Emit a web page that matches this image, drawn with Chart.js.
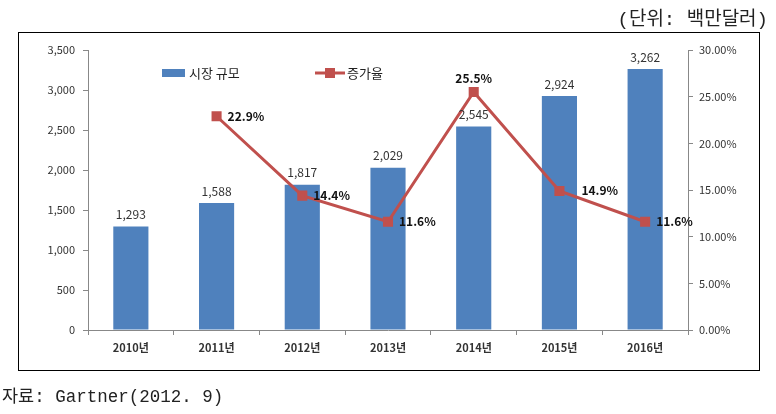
<!DOCTYPE html>
<html>
<head>
<meta charset="utf-8">
<script src="https://cdn.jsdelivr.net/npm/chart.js@4/dist/chart.umd.min.js"></script>
<style>
  body { margin: 0; background: #fff; }
  #wrap { position: relative; width: 776px; height: 414px; }
  canvas { position: absolute; left: 0; top: 0; }
  .note { position: absolute; font-family: "Liberation Mono", "DejaVu Sans Mono", "Noto Sans CJK KR", monospace; color: #222; white-space: nowrap; }
  #unit { right: 8px; top: 3px; font-size: 19px; }
  #src { left: 2px; top: 382px; font-size: 17.5px; }
</style>
</head>
<body>
<div id="wrap">
  <canvas id="c" width="776" height="414"></canvas>
  <div class="note" id="unit">(단위: 백만달러)</div>
  <div class="note" id="src">자료: Gartner(2012. 9)</div>
</div>
<script>
  const years = ['2010년', '2011년', '2012년', '2013년', '2014년', '2015년', '2016년'];
  const marketSize = [1293, 1588, 1817, 2029, 2545, 2924, 3262];
  const growthRate = [null, 22.9, 14.4, 11.6, 25.5, 14.9, 11.6];
  // where each growth label sits relative to its point
  const growthLabelPos = [null, 'right', 'right', 'right', 'top', 'far', 'right'];

  const FONT = '"Noto Sans CJK KR", "Noto Sans", sans-serif';
  const BLUE = '#4f81bd';
  const RED = '#c0504d';

  const fmt = n => n.toLocaleString('en-US');

  const decor = {
    id: 'decor',
    beforeDraw(chart) {
      const ctx = chart.ctx;
      ctx.save();
      ctx.strokeStyle = '#000';
      ctx.lineWidth = 1;
      ctx.strokeRect(18.5, 32.5, 741, 338);
      ctx.restore();
    },
    afterDraw(chart) {
      const ctx = chart.ctx;
      ctx.save();
      // bar values
      ctx.font = '12px ' + FONT;
      ctx.fillStyle = '#333';
      ctx.textAlign = 'center';
      ctx.textBaseline = 'bottom';
      chart.getDatasetMeta(0).data.forEach((bar, i) => {
        ctx.fillText(fmt(marketSize[i]), bar.x, bar.y - 6);
      });
      // growth labels
      ctx.font = 'bold 12px ' + FONT;
      ctx.fillStyle = '#111';
      chart.getDatasetMeta(1).data.forEach((pt, i) => {
        if (growthRate[i] == null) return;
        const t = growthRate[i].toFixed(1) + '%';
        if (growthLabelPos[i] === 'top') {
          ctx.textAlign = 'center';
          ctx.textBaseline = 'bottom';
          ctx.fillText(t, pt.x, pt.y - 8);
        } else {
          ctx.textAlign = 'left';
          ctx.textBaseline = 'middle';
          ctx.fillText(t, pt.x + (growthLabelPos[i] === 'far' ? 22 : 11), pt.y);
        }
      });
      // legend
      ctx.fillStyle = BLUE;
      ctx.fillRect(162, 69, 23, 8);
      ctx.font = '13px ' + FONT;
      ctx.fillStyle = '#222';
      ctx.textAlign = 'left';
      ctx.textBaseline = 'middle';
      ctx.fillText('시장 규모', 189, 73);
      ctx.strokeStyle = RED;
      ctx.lineWidth = 3;
      ctx.beginPath();
      ctx.moveTo(315, 73);
      ctx.lineTo(345, 73);
      ctx.stroke();
      ctx.fillStyle = RED;
      ctx.fillRect(325, 68, 10, 10);
      ctx.fillStyle = '#222';
      ctx.fillText('증가율', 347, 73);
      ctx.restore();
    }
  };

  new Chart(document.getElementById('c'), {
    data: {
      labels: years,
      datasets: [
        {
          type: 'bar',
          label: '시장 규모',
          data: marketSize,
          backgroundColor: BLUE,
          yAxisID: 'y',
          barPercentage: 0.41,
          categoryPercentage: 1,
          order: 2,
        },
        {
          type: 'line',
          label: '증가율',
          data: growthRate,
          borderColor: RED,
          backgroundColor: RED,
          borderWidth: 3,
          pointStyle: 'rect',
          pointRadius: 5,
          yAxisID: 'y1',
          order: 1,
        },
      ],
    },
    options: {
      responsive: false,
      animation: false,
      layout: { padding: { left: 25, right: 30, top: 50, bottom: 54 } },
      plugins: { legend: { display: false }, tooltip: { enabled: false } },
      scales: {
        x: {
          grid: { display: true, offset: true, drawOnChartArea: false, tickLength: 5, color: '#888' },
          border: { color: '#888' },
          ticks: { font: { family: FONT, size: 11, weight: 'bold' }, color: '#333', padding: 6 },
          afterFit: s => { s.height = 30; },
        },
        y: {
          position: 'left',
          min: 0, max: 3500,
          ticks: { stepSize: 500, callback: v => fmt(v), font: { family: FONT, size: 11 }, color: '#333', padding: 8 },
          grid: { drawOnChartArea: false, tickLength: 5, color: '#888' },
          border: { color: '#888' },
          afterFit: s => { s.width = 63; },
        },
        y1: {
          position: 'right',
          min: 0, max: 30,
          ticks: { stepSize: 5, callback: v => v.toFixed(2) + '%', font: { family: FONT, size: 11 }, color: '#333', padding: 6 },
          grid: { drawOnChartArea: false, tickLength: 5, color: '#888' },
          border: { color: '#888' },
          afterFit: s => { s.width = 58; },
        },
      },
    },
    plugins: [decor],
  });
</script>
</body>
</html>
